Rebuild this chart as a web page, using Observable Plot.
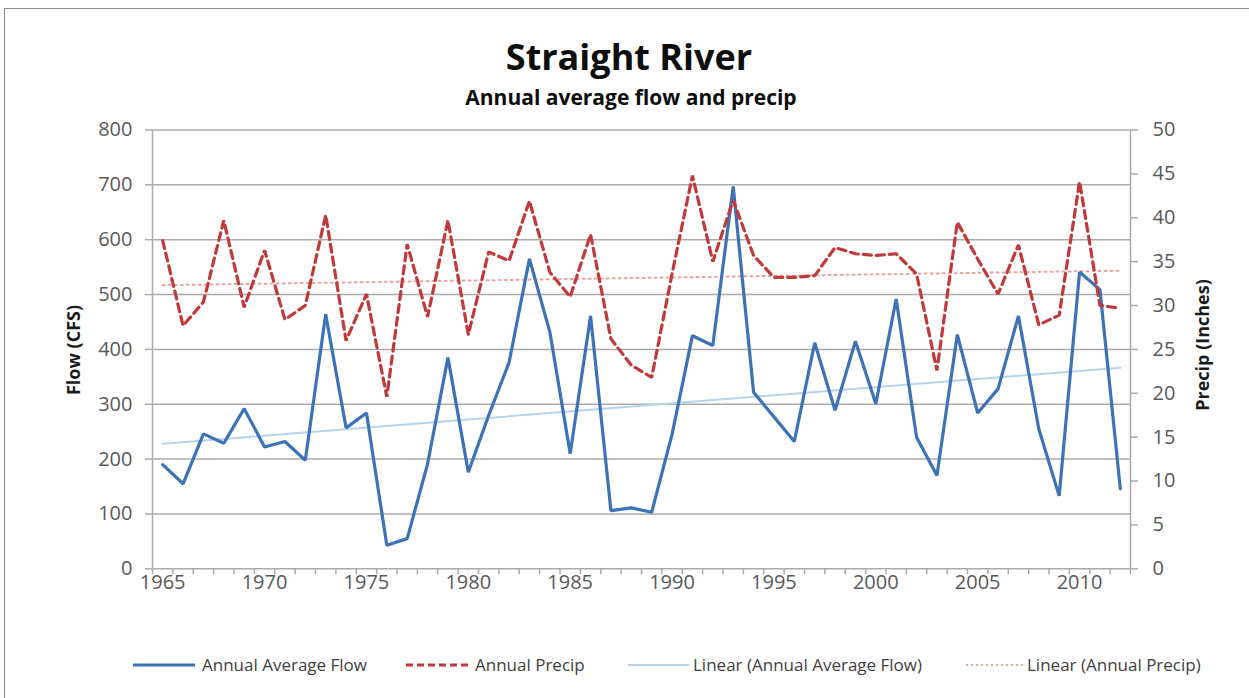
<!DOCTYPE html>
<html>
<head>
<meta charset="utf-8">
<script src="https://cdn.jsdelivr.net/npm/d3@7"></script>
<script src="https://cdn.jsdelivr.net/npm/@observablehq/plot@0.6"></script>
<style>
  html, body { margin: 0; padding: 0; background: #fff; width: 1249px; height: 698px; overflow: hidden; font-family: "Open Sans", sans-serif; }
  #frame { position: absolute; left: 4px; top: 8px; width: 1300px; height: 760px; border: 1.5px solid #8c8c8c; box-sizing: border-box; }
  #title { position: absolute; left: 0; width: 1258px; top: 39px; text-align: center; font-weight: 700; font-size: 36px; line-height: 36px; color: #0d0d0d; }
  #subtitle { position: absolute; left: 0; width: 1262px; top: 87px; text-align: center; font-weight: 700; font-size: 21px; line-height: 21px; color: #0d0d0d; }
  #chart { position: absolute; left: 0; top: 110px; }
  .ytitle { position: absolute; width: 240px; text-align: center; font-weight: 700; font-size: 18px; line-height: 18px; color: #1a1a1a; transform: rotate(-90deg); transform-origin: center center; }
  .legtext { position: absolute; top: 656px; font-size: 17px; line-height: 17px; color: #404040; white-space: nowrap; }
  .legline { position: absolute; top: 655px; height: 20px; }
</style>
</head>
<body>
<div id="frame"></div>
<div id="title">Straight River</div>
<div id="subtitle">Annual average flow and precip</div>
<div id="chart"></div>
<div class="ytitle" style="left:-47px; top:341px;">Flow (CFS)</div>
<div class="ytitle" style="left:1082px; top:336px;">Precip (Inches)</div>
<div id="legend"></div>
<script>
// ---- data ----
const years = [1965,1966,1967,1968,1969,1970,1971,1972,1973,1974,
               1975,1976,1977,1978,1979,1980,1981,1982,1983,1984,
               1985,1986,1987,1988,1989,1990,1991,1992,1993,1994,
               1995,1996,1997,1998,1999,2000,2001,2002,2003,2004,
               2005,2006,2007,2008,2009,2010,2011,2012];
const flow = [190,155,246,229,292,222,232,198,464,257,
              284,43,55,191,385,176,280,376,565,432,
              210,461,106,111,103,245,425,407,697,322,
              277,232,412,289,415,301,492,240,170,427,
              284,328,461,255,133,541,509,146];
const precip = [37.4,27.7,30.4,39.7,29.8,36.3,28.4,30.0,40.3,26.0,
                31.3,19.6,37.0,28.7,39.7,26.7,36.1,35.1,41.9,33.8,
                31.0,38.1,26.2,23.2,21.8,33.6,44.8,35.0,42.0,35.7,
                33.2,33.2,33.4,36.6,35.9,35.7,35.9,33.6,22.6,39.5,
                35.3,31.3,36.9,27.8,28.9,44.1,30.0,29.7];
const flowTicks = [0,100,200,300,400,500,600,700,800];
const precipTicks = [0,5,10,15,20,25,30,35,40,45,50];
const yearLabels = [1965,1970,1975,1980,1985,1990,1995,2000,2005,2010];
const seriesNames = ["Annual Average Flow","Annual Precip","Linear (Annual Average Flow)","Linear (Annual Precip)"];

// ---- styles ----
const flowColor = "#3d72b8";
const precipColor = "#c0393b";
const flowTrendColor = "#b9d2ec";
const precipTrendColor = "#e9a3a2";
const gridColor = "#ababab";
const flowMax = flowTicks[flowTicks.length - 1];
const precipMax = precipTicks[precipTicks.length - 1];
const k = flowMax / precipMax; // precip mapped onto the flow scale

const data = years.map((year, i) => ({year, flow: flow[i], precip: precip[i], p: precip[i] * k}));
const bounds = [years[0] - 0.5, ...years.map(y => y + 0.5)];

const chart = Plot.plot({
  width: 1249,
  height: 510,
  marginTop: 19.5,
  marginBottom: 51.7,
  marginLeft: 152,
  marginRight: 119,
  style: {fontFamily: "Open Sans", fontSize: "20px", color: "#595959", background: "transparent", overflow: "visible"},
  x: {domain: [years[0] - 0.5, years[years.length - 1] + 0.5]},
  y: {domain: [0, flowMax]},
  marks: [
    Plot.gridY(flowTicks.filter(d => d > 0), {stroke: gridColor, strokeOpacity: 1, strokeWidth: 1.5}),
    Plot.ruleX([bounds[0], bounds[bounds.length - 1]], {stroke: gridColor, strokeWidth: 1.5}),
    Plot.ruleY([0], {stroke: gridColor, strokeWidth: 1.5}),
    Plot.axisY(flowTicks, {anchor: "left", tickSize: 7, tickPadding: 13, stroke: gridColor, strokeWidth: 1.5, fill: "#595959", label: null, tickFormat: d => String(d)}),
    Plot.axisY(precipTicks, {anchor: "right", y: d => d * k, text: d => String(d), tickSize: 7, tickPadding: 15, stroke: gridColor, strokeWidth: 1.5, fill: "#595959", label: null}),
    Plot.axisX(bounds, {anchor: "bottom", tickSize: 6, tickFormat: () => "", stroke: gridColor, strokeWidth: 1.5, label: null}),
    Plot.axisX(yearLabels, {anchor: "bottom", tickSize: 0, tickPadding: 6, tickFormat: d => String(d), fill: "#595959", label: null}),
    Plot.linearRegressionY(data, {x: "year", y: "flow", ci: 0, stroke: flowTrendColor, strokeWidth: 2}),
    Plot.linearRegressionY(data, {x: "year", y: "p", ci: 0, stroke: precipTrendColor, strokeWidth: 2, strokeDasharray: "2,4"}),
    Plot.line(data, {x: "year", y: "flow", stroke: flowColor, strokeWidth: 3.2, strokeLinejoin: "miter"}),
    Plot.line(data, {x: "year", y: "p", stroke: precipColor, strokeWidth: 3.2, strokeDasharray: "8,5", strokeLinejoin: "miter"})
  ]
});
document.getElementById("chart").appendChild(chart);

// ---- legend ----
const legendItems = [
  {name: seriesNames[0], color: flowColor, dash: null, w: 3, x1: 133, x2: 195, tx: 202},
  {name: seriesNames[1], color: precipColor, dash: "7,4", w: 3, x1: 406, x2: 470, tx: 475},
  {name: seriesNames[2], color: flowTrendColor, dash: null, w: 2, x1: 628, x2: 689, tx: 693},
  {name: seriesNames[3], color: precipTrendColor, dash: "2,3", w: 2, x1: 966, x2: 1023, tx: 1027}
];
const leg = document.getElementById("legend");
legendItems.forEach(it => {
  const ns = "http://www.w3.org/2000/svg";
  const s = document.createElementNS(ns, "svg");
  s.setAttribute("class", "legline");
  s.setAttribute("width", it.x2 - it.x1);
  s.setAttribute("height", 20);
  s.style.left = it.x1 + "px";
  const l = document.createElementNS(ns, "line");
  l.setAttribute("x1", 0); l.setAttribute("x2", it.x2 - it.x1);
  l.setAttribute("y1", 10); l.setAttribute("y2", 10);
  l.setAttribute("stroke", it.color);
  l.setAttribute("stroke-width", it.w);
  if (it.dash) l.setAttribute("stroke-dasharray", it.dash);
  s.appendChild(l);
  leg.appendChild(s);
  const t = document.createElement("div");
  t.className = "legtext";
  t.style.left = it.tx + "px";
  t.textContent = it.name;
  leg.appendChild(t);
});
</script>
</body>
</html>
